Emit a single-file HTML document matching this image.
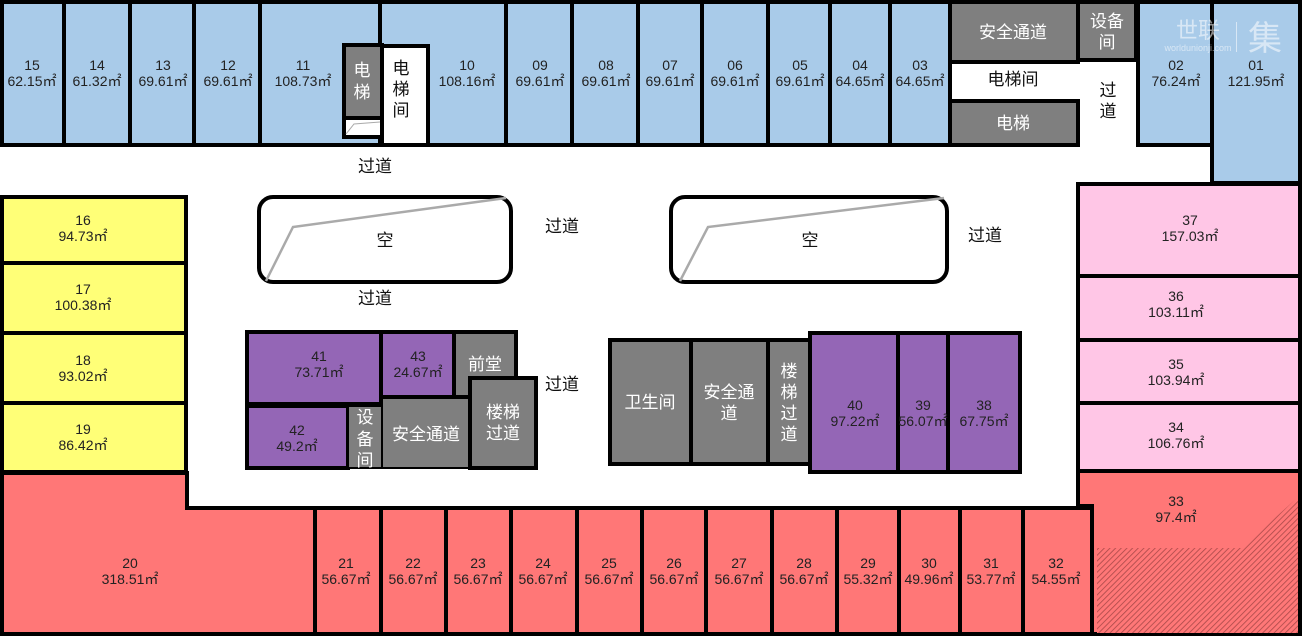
<!DOCTYPE html>
<html><head><meta charset="utf-8"><style>
html,body{margin:0;padding:0;background:#fff;}
svg{display:block;}
text{font-family:"Liberation Sans","Noto Sans CJK SC",sans-serif;text-anchor:middle;}
.t{font-size:14px;fill:#222;}
.g{font-size:17px;fill:#fff;}
.d{font-size:17px;fill:#111;}
</style></head><body>
<svg width="1302" height="639" viewBox="0 0 1302 639" xmlns="http://www.w3.org/2000/svg">
<defs>
<pattern id="h" width="4" height="4" patternUnits="userSpaceOnUse" patternTransform="rotate(45)">
<rect width="4" height="4" fill="#ff7777"/><line x1="0" y1="0" x2="0" y2="4" stroke="#a84848" stroke-width="1.6"/>
</pattern>
</defs>
<g stroke="#000" stroke-width="4">
<g fill="#a9cbe9">
<rect x="2" y="2" width="62" height="143"/>
<rect x="64" y="2" width="66" height="143"/>
<rect x="130" y="2" width="64" height="143"/>
<rect x="194" y="2" width="66" height="143"/>
<rect x="260" y="2" width="120" height="143"/>
<rect x="380" y="2" width="126" height="143"/>
<rect x="506" y="2" width="66" height="143"/>
<rect x="572" y="2" width="66" height="143"/>
<rect x="638" y="2" width="64" height="143"/>
<rect x="702" y="2" width="66" height="143"/>
<rect x="768" y="2" width="62" height="143"/>
<rect x="830" y="2" width="60" height="143"/>
<rect x="890" y="2" width="60" height="143"/>
<rect x="1138" y="2" width="74" height="143"/>
<rect x="1212" y="2" width="88" height="181"/>
</g>
<rect x="344" y="45" width="38" height="73" fill="#7f7f7f"/>
<rect x="344" y="118" width="38" height="19" fill="#fff"/>
<rect x="382" y="46" width="46" height="99" fill="#fff"/>
<rect x="950" y="2" width="128" height="60" fill="#7f7f7f"/>
<rect x="1078" y="2" width="58" height="58" fill="#7f7f7f"/>
<rect x="950" y="101" width="128" height="44" fill="#7f7f7f"/>
<g fill="#ffff77">
<rect x="2" y="197" width="184" height="66"/>
<rect x="2" y="263" width="184" height="70"/>
<rect x="2" y="333" width="184" height="70"/>
<rect x="2" y="403" width="184" height="69"/>
</g>
<g fill="#ffc6e6">
<rect x="1078" y="184" width="222" height="92"/>
<rect x="1078" y="276" width="222" height="64"/>
<rect x="1078" y="340" width="222" height="63"/>
<rect x="1078" y="403" width="222" height="68"/>
</g>
<g fill="#ff7777">
<path d="M2 473 H187 V508 H315 V634 H2 Z"/>
<rect x="315" y="508" width="66" height="126"/>
<rect x="381" y="508" width="65" height="126"/>
<rect x="446" y="508" width="65" height="126"/>
<rect x="511" y="508" width="66" height="126"/>
<rect x="577" y="508" width="65" height="126"/>
<rect x="642" y="508" width="64" height="126"/>
<rect x="706" y="508" width="66" height="126"/>
<rect x="772" y="508" width="65" height="126"/>
<rect x="837" y="508" width="62" height="126"/>
<rect x="899" y="508" width="61" height="126"/>
<rect x="960" y="508" width="63" height="126"/>
<rect x="1023" y="508" width="69" height="126"/>
<path d="M1078 471 H1300 V634 H1092 V506 H1078 Z"/>
</g>
<rect x="259" y="197" width="252" height="85" rx="14" fill="#fff"/>
<rect x="671" y="197" width="276" height="85" rx="14" fill="#fff"/>
<rect x="247" y="332" width="134" height="72" fill="#9466b6"/>
<rect x="381" y="332" width="73" height="65" fill="#9466b6"/>
<rect x="454" y="332" width="62" height="65" fill="#7f7f7f"/>
<rect x="247" y="406" width="101" height="62" fill="#9466b6"/>
<rect x="348" y="406" width="34" height="62" fill="#7f7f7f" stroke-width="2"/>
<rect x="382" y="398" width="88" height="70" fill="#7f7f7f" stroke-width="2"/>
<rect x="470" y="378" width="66" height="90" fill="#7f7f7f"/>
<rect x="610" y="340" width="81" height="124" fill="#7f7f7f"/>
<rect x="691" y="340" width="77" height="124" fill="#7f7f7f"/>
<rect x="768" y="340" width="42" height="124" fill="#7f7f7f"/>
<rect x="810" y="333" width="88" height="139" fill="#9466b6"/>
<rect x="898" y="333" width="50" height="139" fill="#9466b6"/>
<rect x="948" y="333" width="72" height="139" fill="#9466b6"/>
</g>
<path d="M1097 548 H1242 L1298 497 V633 H1097 Z" fill="url(#h)"/>
<polyline points="266,281 293,227 506,198" fill="none" stroke="#aaa" stroke-width="2.5"/>
<polyline points="680,281 708,227 944,198" fill="none" stroke="#aaa" stroke-width="2.5"/>
<polyline points="346,134 354,124 380,122" fill="none" stroke="#aaa" stroke-width="1"/>
<g class="t">
<text x="32" y="70">15</text><text x="32" y="86">62.15㎡</text>
<text x="97" y="70">14</text><text x="97" y="86">61.32㎡</text>
<text x="163" y="70">13</text><text x="163" y="86">69.61㎡</text>
<text x="228" y="70">12</text><text x="228" y="86">69.61㎡</text>
<text x="303" y="70">11</text><text x="303" y="86">108.73㎡</text>
<text x="467" y="70">10</text><text x="467" y="86">108.16㎡</text>
<text x="540" y="70">09</text><text x="540" y="86">69.61㎡</text>
<text x="606" y="70">08</text><text x="606" y="86">69.61㎡</text>
<text x="670" y="70">07</text><text x="670" y="86">69.61㎡</text>
<text x="735" y="70">06</text><text x="735" y="86">69.61㎡</text>
<text x="800" y="70">05</text><text x="800" y="86">69.61㎡</text>
<text x="860" y="70">04</text><text x="860" y="86">64.65㎡</text>
<text x="920" y="70">03</text><text x="920" y="86">64.65㎡</text>
<text x="1176" y="70">02</text><text x="1176" y="86">76.24㎡</text>
<text x="1256" y="70">01</text><text x="1256" y="86">121.95㎡</text>
<text x="83" y="225">16</text><text x="83" y="241">94.73㎡</text>
<text x="83" y="294">17</text><text x="83" y="310">100.38㎡</text>
<text x="83" y="365">18</text><text x="83" y="381">93.02㎡</text>
<text x="83" y="434">19</text><text x="83" y="450">86.42㎡</text>
<text x="1190" y="225">37</text><text x="1190" y="241">157.03㎡</text>
<text x="1176" y="301">36</text><text x="1176" y="317">103.11㎡</text>
<text x="1176" y="369">35</text><text x="1176" y="385">103.94㎡</text>
<text x="1176" y="432">34</text><text x="1176" y="448">106.76㎡</text>
<text x="1176" y="506">33</text><text x="1176" y="522">97.4㎡</text>
<text x="130" y="568">20</text><text x="130" y="584">318.51㎡</text>
<text x="346" y="568">21</text><text x="346" y="584">56.67㎡</text>
<text x="413" y="568">22</text><text x="413" y="584">56.67㎡</text>
<text x="478" y="568">23</text><text x="478" y="584">56.67㎡</text>
<text x="543" y="568">24</text><text x="543" y="584">56.67㎡</text>
<text x="609" y="568">25</text><text x="609" y="584">56.67㎡</text>
<text x="674" y="568">26</text><text x="674" y="584">56.67㎡</text>
<text x="739" y="568">27</text><text x="739" y="584">56.67㎡</text>
<text x="804" y="568">28</text><text x="804" y="584">56.67㎡</text>
<text x="868" y="568">29</text><text x="868" y="584">55.32㎡</text>
<text x="929" y="568">30</text><text x="929" y="584">49.96㎡</text>
<text x="991" y="568">31</text><text x="991" y="584">53.77㎡</text>
<text x="1056" y="568">32</text><text x="1056" y="584">54.55㎡</text>
<text x="319" y="361">41</text><text x="319" y="377">73.71㎡</text>
<text x="418" y="361">43</text><text x="418" y="377">24.67㎡</text>
<text x="297" y="435">42</text><text x="297" y="451">49.2㎡</text>
<text x="855" y="410">40</text><text x="855" y="426">97.22㎡</text>
<text x="923" y="410">39</text><text x="923" y="426">56.07㎡</text>
<text x="984" y="410">38</text><text x="984" y="426">67.75㎡</text>
</g>
<g class="g">
<text x="362" y="76">电</text><text x="362" y="98">梯</text>
<text x="1013" y="38">安全通道</text>
<text x="1107" y="27">设备</text><text x="1107" y="48">间</text>
<text x="1013" y="129">电梯</text>
<text x="485" y="370">前堂</text>
<text x="365" y="423">设</text><text x="365" y="445">备</text><text x="365" y="466">间</text>
<text x="426" y="440">安全通道</text>
<text x="503" y="418">楼梯</text><text x="503" y="439">过道</text>
<text x="650" y="408">卫生间</text>
<text x="729" y="398">安全通</text><text x="729" y="419">道</text>
<text x="789" y="377">楼</text><text x="789" y="398">梯</text><text x="789" y="419">过</text><text x="789" y="440">道</text>
</g>
<g class="d">
<text x="401" y="74">电</text><text x="401" y="95">梯</text><text x="401" y="116">间</text>
<text x="1013" y="85">电梯间</text>
<text x="1108" y="96">过</text><text x="1108" y="117">道</text>
<text x="375" y="172">过道</text>
<text x="375" y="304">过道</text>
<text x="562" y="232">过道</text>
<text x="562" y="390">过道</text>
<text x="985" y="241">过道</text>
<text x="385" y="246">空</text>
<text x="810" y="246">空</text>
</g>
<g fill="#fff" opacity="0.55">
<text x="1198" y="38" style="font-size:22px">世联</text>
<text x="1198" y="51" style="font-size:9px">worldunionji.com</text>
<rect x="1236" y="22" width="1" height="30"/>
<text x="1265" y="50" style="font-size:34px">集</text>
</g>
</svg>
</body></html>
